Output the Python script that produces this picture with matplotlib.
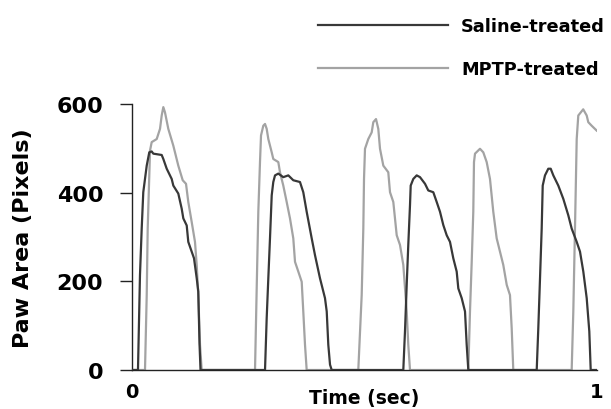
import matplotlib
matplotlib.use("Agg")
import matplotlib.pyplot as plt

# Saline-treated (dark) trace
saline_t = [0.0, 0.0135, 0.0178, 0.0215, 0.0249, 0.0323, 0.0378, 0.0430, 0.0465, 0.0645, 0.0680,
            0.0753, 0.0860, 0.0895, 0.1002, 0.1075, 0.1110, 0.1183, 0.1217, 0.1290, 0.1340,
            0.1398, 0.1432, 0.1458, 0.1480,
            0.2867, 0.2903, 0.2938, 0.2974, 0.3011, 0.3045, 0.3082, 0.3153, 0.3260, 0.3368,
            0.3475, 0.3619, 0.3690, 0.3763, 0.3871, 0.3942, 0.4049, 0.4157, 0.4194, 0.4228,
            0.4265, 0.4301,
            0.5841, 0.5877, 0.5914, 0.5948, 0.5985, 0.6000, 0.6056, 0.6129, 0.6200, 0.6308,
            0.6378, 0.6486, 0.6559, 0.6630, 0.6701, 0.6774, 0.6845, 0.6916, 0.6989, 0.7024,
            0.7097, 0.7168, 0.7204, 0.7239,
            0.8710, 0.8744, 0.8781, 0.8817, 0.8839, 0.8888, 0.8959, 0.9011, 0.9067, 0.9174,
            0.9282, 0.9389, 0.9462, 0.9570, 0.9641, 0.9712, 0.9785, 0.9841, 0.9871, 1.0]
saline_v = [0, 0, 214, 319, 401, 461, 491, 493, 488, 485, 476,
            454, 431, 416, 398, 364, 342, 326, 289, 267, 252,
            207, 177, 60, 0,
            0, 117, 207, 297, 394, 424, 439, 443, 435, 439,
            428, 424, 401, 357, 297, 259, 207, 162, 132, 57,
            12, 0,
            0, 87, 192, 282, 372, 416, 431, 439, 435, 420,
            405, 401, 379, 357, 327, 304, 289, 252, 222, 184,
            162, 132, 57, 0,
            0, 94, 207, 319, 416, 439, 454, 454, 439, 416,
            386, 349, 319, 289, 267, 222, 162, 87, 0, 0]

# MPTP-treated (gray) trace
mptp_t = [0.0, 0.0286, 0.0323, 0.0344, 0.0394, 0.0430, 0.0538, 0.0609, 0.0645, 0.0680, 0.0716,
          0.0787, 0.0895, 0.1002, 0.1097, 0.1168, 0.1217, 0.1290, 0.1361, 0.1398, 0.1432,
          0.1469, 0.1505,
          0.2652, 0.2688, 0.2723, 0.2759, 0.2781, 0.2830, 0.2867, 0.2903, 0.2938, 0.3011,
          0.3045, 0.3153, 0.3189, 0.3260, 0.3333, 0.3404, 0.3475, 0.3512, 0.3583, 0.3656,
          0.3690, 0.3727, 0.3763,
          0.4873, 0.4946, 0.4981, 0.4996, 0.5017, 0.5088, 0.5161, 0.5196, 0.5254, 0.5303,
          0.5340, 0.5411, 0.5518, 0.5555, 0.5626, 0.5699, 0.5770, 0.5841, 0.5914, 0.5948,
          0.5985,
          0.7239, 0.7275, 0.7312, 0.7346, 0.7361, 0.7383, 0.7490, 0.7561, 0.7634, 0.7705,
          0.7776, 0.7849, 0.7920, 0.7991, 0.8065, 0.8135, 0.8172, 0.8206,
          0.9462, 0.9497, 0.9533, 0.9570, 0.9604, 0.9710, 0.9785, 0.9819, 0.9892, 1.0]
mptp_v = [0, 0, 169, 319, 495, 514, 521, 544, 574, 593, 581,
          544, 506, 461, 428, 420, 379, 334, 289, 237, 169,
          57, 0,
          0, 184, 357, 469, 529, 551, 555, 544, 521, 491,
          476, 469, 446, 416, 379, 342, 297, 244, 222, 199,
          132, 57, 0,
          0, 169, 319, 431, 499, 521, 536, 559, 566, 544,
          499, 461, 446, 401, 379, 304, 282, 237, 132, 57,
          0,
          0, 132, 244, 357, 469, 488, 499, 491, 469, 431,
          357, 297, 267, 237, 192, 169, 94, 0,
          0, 132, 319, 521, 574, 588, 574, 559, 551, 540]

series_labels = ["Saline-treated", "MPTP-treated"]
y_ticks = [0, 200, 400, 600]
x_ticks = [0, 1]
x_tick_labels = ["0", "1"]

plt.rcParams['font.family'] = ['DejaVu Sans']
plt.rcParams['font.weight'] = 'bold'

fig = plt.figure(figsize=(6.11, 4.10), dpi=100)
ax = fig.add_axes([131.7 / 611, 1 - 371 / 410, 465 / 611, 266 / 410])

l1, = ax.plot(saline_t, saline_v, color="#383838", lw=1.6, label=series_labels[0], zorder=3)
l2, = ax.plot(mptp_t, mptp_v, color="#a3a3a3", lw=1.6, label=series_labels[1], zorder=2)

ax.set_xlim(0, 1)
ax.set_ylim(0, 600)
ax.spines['top'].set_visible(False)
ax.spines['right'].set_visible(False)
for s in ('left', 'bottom'):
    ax.spines[s].set_linewidth(1.0)
    ax.spines[s].set_color("#222222")

ax.set_yticks(y_ticks)
ax.set_yticklabels([str(v) for v in y_ticks], fontsize=16, fontweight='bold')
ax.tick_params(axis='y', direction='out', length=8.5, width=1.0, pad=12, color="#222222")
ax.set_xticks(x_ticks)
ax.set_xticklabels(x_tick_labels, fontsize=14, fontweight='bold')
ax.tick_params(axis='x', length=0, pad=9)

ax.set_xlabel("Time (sec)", fontsize=13.5, fontweight='bold')
ax.xaxis.set_label_coords(0.5, -0.066)
ax.set_ylabel("Paw Area (Pixels)", fontsize=16, fontweight='bold')
ax.yaxis.set_label_coords(-0.212, 0.5)

fig.legend(handles=[l1, l2], loc='upper left', bbox_to_anchor=(318 / 611, 1 - 18 / 410),
           frameon=False, borderpad=0, borderaxespad=0, handlelength=7.3,
           handletextpad=0.75, labelspacing=1.4,
           prop={'size': 12.8, 'weight': 'bold'})

fig.savefig("out.png", dpi=100)
